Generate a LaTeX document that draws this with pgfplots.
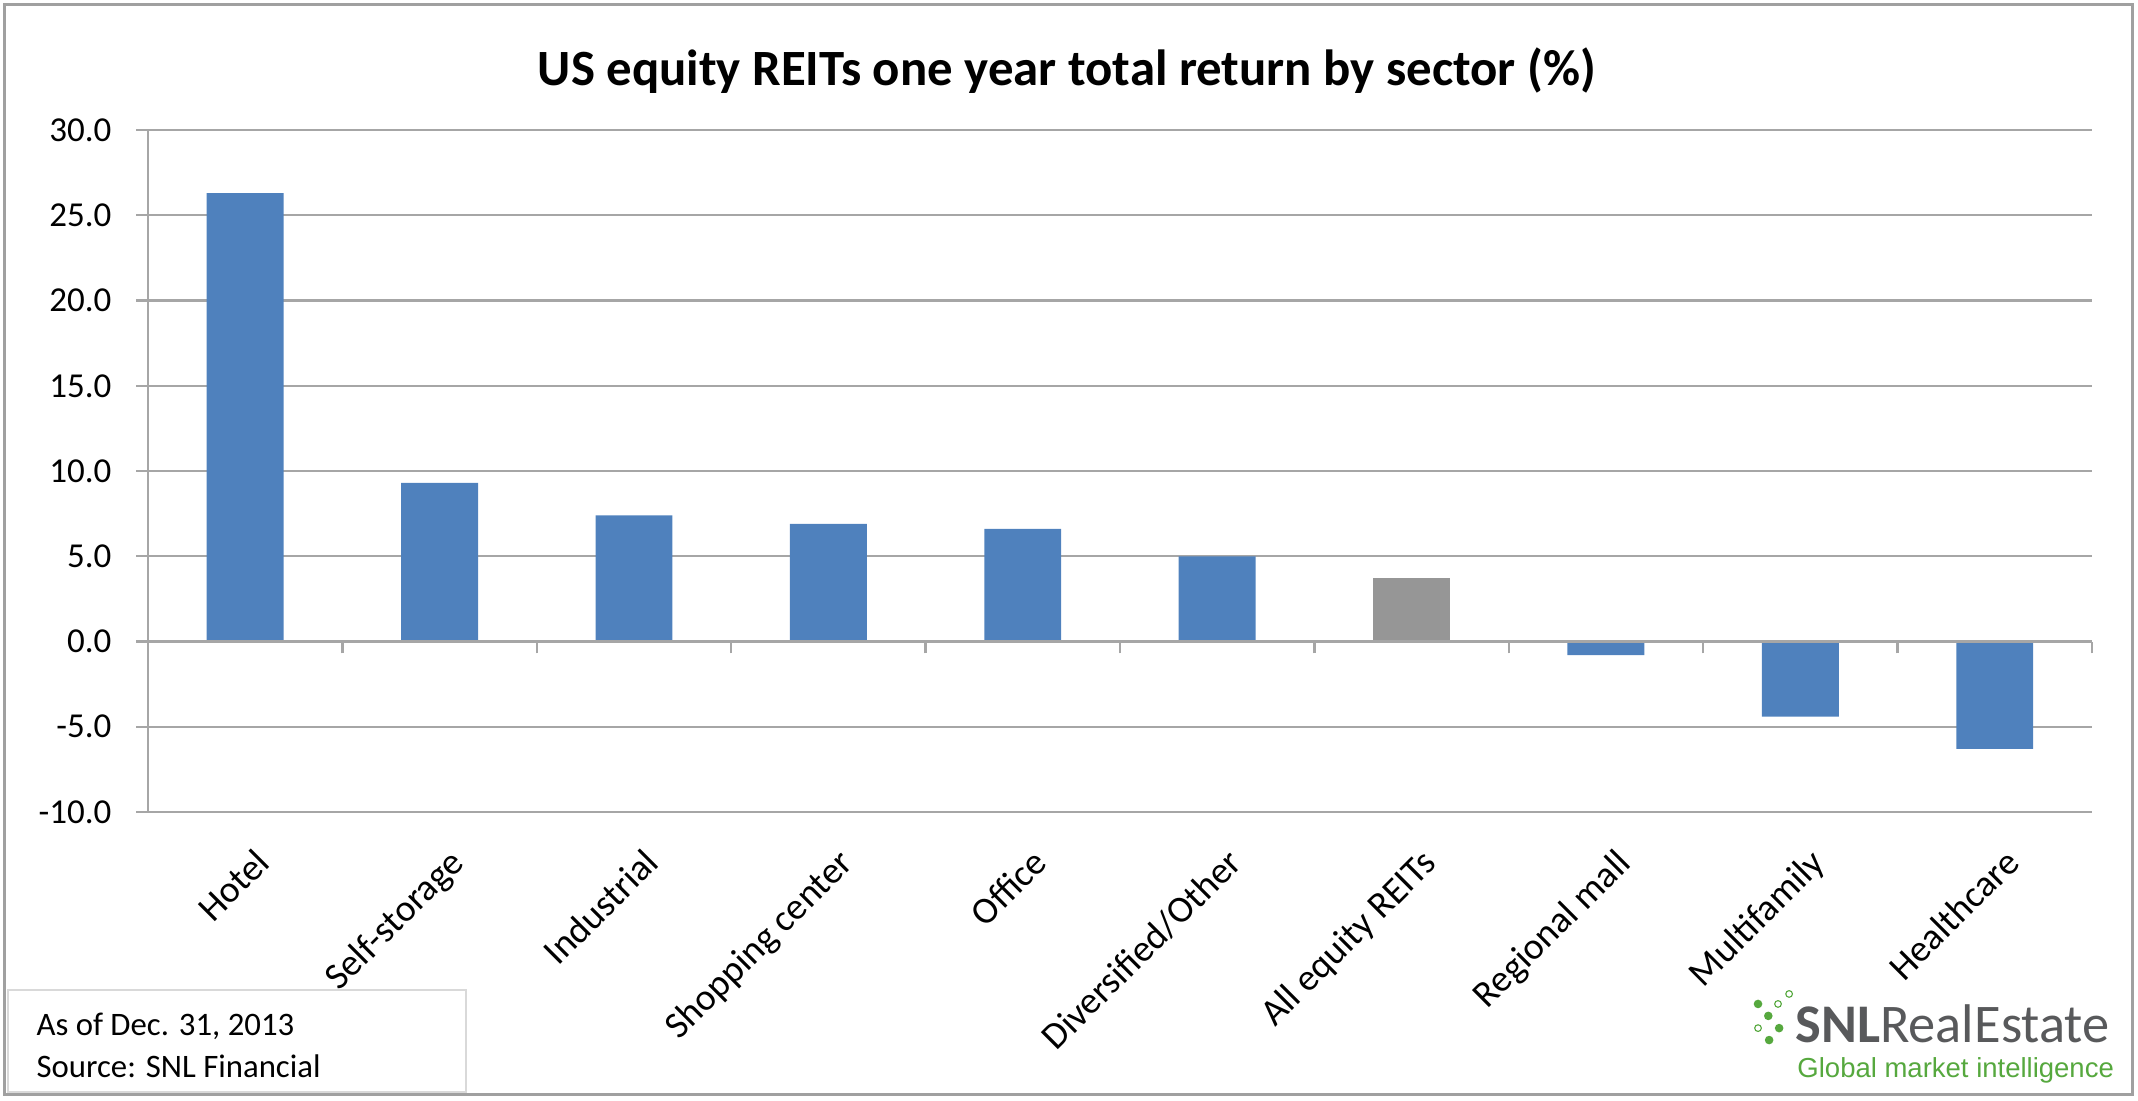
\documentclass[border=0pt]{standalone}
\usepackage{pgfplots}
\pgfplotsset{compat=1.18}
\usepackage{fontspec}
\setmainfont{Carlito}
\newfontfamily\logofont{Liberation Sans}

\definecolor{barblue}{RGB}{79,129,189}
\definecolor{bargray}{RGB}{150,150,150}
\definecolor{gridgray}{RGB}{166,166,166}
\definecolor{framegray}{RGB}{160,160,160}
\definecolor{boxgray}{RGB}{217,217,217}
\definecolor{logogray}{RGB}{88,89,91}
\definecolor{logogreen}{RGB}{86,168,62}

\begin{document}
\begin{tikzpicture}
\useasboundingbox (-53.28pt,-103.68pt) rectangle (716.4pt,292.32pt);

% main axis: bars, grid, labels
\begin{axis}[
    at={(0,0)}, anchor=south west,
    scale only axis,
    width=699.8pt, height=245.5pt,
    xmin=-0.5, xmax=9.5,
    ymin=-10, ymax=30,
    axis lines=left,
    axis line style={gridgray, line width=0.85pt, -},
    ytick={-10,-5,...,30},
    yticklabels={-10.0,-5.0,0.0,5.0,10.0,15.0,20.0,25.0,30.0},
    ymajorgrids,
    grid style={gridgray, line width=0.85pt},
    tick align=outside,
    major tick length=4.3pt,
    tick style={gridgray, line width=0.85pt},
    xtick={0,...,9},
    xticklabels={Hotel, Self-storage, Industrial, Shopping center, Office,
        Diversified/Other, All equity REITs, Regional mall, Multifamily, Healthcare},
    x tick style={draw=none},
    xticklabel style={xshift=2.9pt, yshift=-7.9pt, rotate=45, anchor=north east,
        inner sep=0pt, font=\fontsize{13.5}{15}\selectfont},
    yticklabel style={xshift=-8.7pt, inner sep=0pt, font=\fontsize{12.6}{15}\selectfont},
    ybar,
    bar width=27.7pt,
]
\addplot[fill=barblue, draw=none, bar shift=0pt] coordinates {
    (0,26.3) (1,9.3) (2,7.4) (3,6.9) (4,6.6) (5,5.0) (7,-0.8) (8,-4.4) (9,-6.3)};
\addplot[fill=bargray, draw=none, bar shift=0pt] coordinates {(6,3.7)};
\end{axis}

% zero line with category separator ticks
\begin{axis}[
    at={(0,61.375pt)}, anchor=south west,
    scale only axis,
    width=699.8pt, height=184.125pt,
    xmin=-0.5, xmax=9.5,
    ymin=0, ymax=30,
    axis x line=bottom, axis y line=none,
    axis line style={gridgray, line width=0.85pt, -},
    xtick={0.5,1.5,...,9.5},
    xticklabels={},
    tick align=outside,
    major tick length=4.3pt,
    tick style={gridgray, line width=0.85pt},
]
\end{axis}

\node[anchor=base, font=\fontsize{18.3}{22}\selectfont\bfseries] at (330.8pt,261.7pt)
    {US equity REITs one year total return by sector (\%)};

\draw[framegray, line width=1.08pt] (-51.48pt,-101.52pt) rectangle (714.24pt,290.52pt);

\draw[boxgray, line width=0.72pt] (-50.4pt,-64.1pt) rectangle (114.5pt,-100.8pt);
\node[anchor=base west, inner sep=0pt, font=\fontsize{11.8}{14}\selectfont] at (-40.3pt,-80.3pt) {As of Dec. 31, 2013};
\node[anchor=base west, inner sep=0pt, font=\fontsize{11.8}{14}\selectfont] at (-40.3pt,-95.4pt) {Source: SNL Financial};

% logo
\node[anchor=base west, inner sep=0pt, text=logogray, font=\fontsize{19.6}{20}\selectfont] at (592.9pt,-82.8pt) {\textbf{SNL}RealEstate};
\node[anchor=base west, inner sep=0pt, text=logogreen, font=\logofont\fontsize{9.9}{11}\selectfont] at (593.6pt,-95.4pt) {Global market intelligence};
\fill[logogreen] (579.6pt,-69.1pt) circle (1.55pt);
\fill[logogreen] (583.3pt,-73.4pt) circle (1.55pt);
\fill[logogreen] (587.2pt,-77.8pt) circle (1.55pt);
\fill[logogreen] (583.6pt,-82.1pt) circle (1.55pt);
\draw[logogreen, line width=0.4pt] (586.8pt,-69.1pt) circle (1.2pt);
\draw[logogreen, line width=0.4pt] (590.8pt,-65.5pt) circle (1.2pt);
\draw[logogreen, line width=0.4pt] (579.6pt,-77.8pt) circle (1.2pt);
\end{tikzpicture}
\end{document}
